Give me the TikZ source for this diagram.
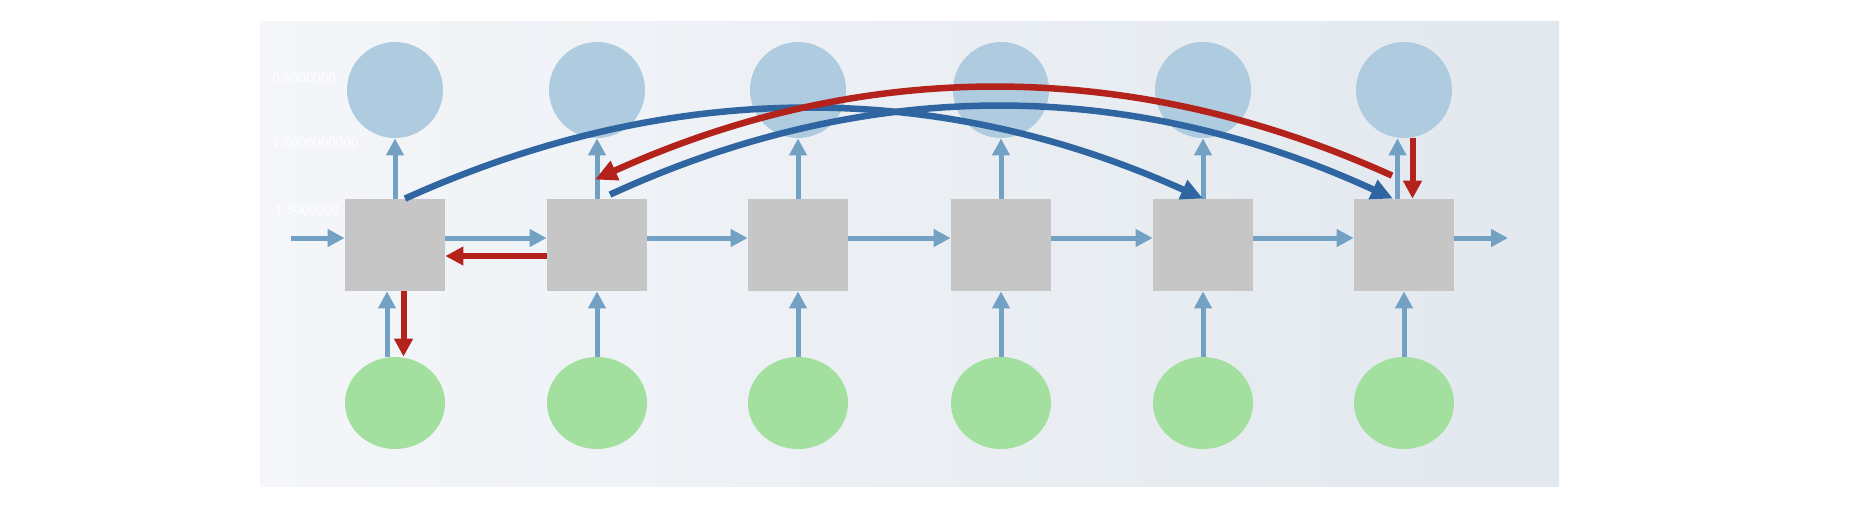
\documentclass[tikz,border=0pt]{standalone}
\usetikzlibrary{arrows.meta,shapes.geometric}
\definecolor{topblue}{HTML}{AECBDF}
\definecolor{boxgrey}{HTML}{C6C6C6}
\definecolor{ingreen}{HTML}{A3E09F}
\definecolor{flowblue}{HTML}{72A1C4}
\definecolor{skipblue}{HTML}{2F66A2}
\definecolor{bpred}{HTML}{B3231B}
\definecolor{bgleft}{HTML}{F4F6F9}
\definecolor{bgright}{HTML}{E2E8EE}
\begin{document}
\begin{tikzpicture}[x=0.5pt,y=-0.5pt,
  box/.style={fill=boxgrey, minimum width=50pt, minimum height=46pt, inner sep=0pt, draw=none},
  outc/.style={circle, fill=topblue, minimum size=48pt, inner sep=0pt},
  inc/.style={ellipse, fill=ingreen, minimum width=50pt, minimum height=46pt, inner sep=0pt},
  flow/.style={draw=flowblue, line width=2.5pt, -{Triangle[length=8.5pt,width=8.5pt]}},
  bwd/.style={draw=bpred, line width=3pt, -{Triangle[length=9pt,width=9pt]}},
  skipb/.style={draw=skipblue, line width=3.25pt, -{Triangle[length=11pt,width=10pt]}},
  skipr/.style={draw=bpred, line width=3.25pt, -{Triangle[length=11pt,width=10pt]}},
  ghost/.style={text=white, font=\sffamily\fontsize{7}{8}\selectfont, anchor=west, inner sep=0pt}]

\useasboundingbox (0,0) rectangle (1862,516);
\shade[left color=bgleft, right color=bgright] (260,21) rectangle (1559,486);

% faint axis labels of the background
\node[ghost] (l1) at (267,78) {-0.5000000};
\node[ghost] (l2) at (267,143) {-1.0000000000};
\node[ghost] (l3) at (270,210) {-1.5000000};

% nodes
\foreach \i/\x in {1/395,2/597,3/798,4/1001,5/1203,6/1404} {
  \node[outc] (t\i) at (\x,90) {};
  \node[box] (b\i) at (\x,245) {};
  \node[inc] (g\i) at (\x,403) {};
}
\coordinate (in0) at (291,238);
\coordinate (out0) at (1508,238);

% input -> hidden
\draw[flow] ([xshift=-4pt]g1.north) -- ([xshift=-4pt]b1.south);
\foreach \i in {2,...,6} { \draw[flow] (g\i) -- (b\i); }
% hidden -> output
\foreach \i in {1,...,5} { \draw[flow] (b\i) -- (t\i); }
\draw[flow] ([xshift=-3.25pt]b6.north) -- ([xshift=-3.25pt]t6.south);
% hidden -> hidden
\draw[flow] (in0) -- ([yshift=3.5pt]b1.west);
\draw[flow] ([yshift=3.5pt]b1.east) -- ([yshift=3.5pt]b2.west);
\draw[flow] ([yshift=3.5pt]b2.east) -- ([yshift=3.5pt]b3.west);
\draw[flow] ([yshift=3.5pt]b3.east) -- ([yshift=3.5pt]b4.west);
\draw[flow] ([yshift=3.5pt]b4.east) -- ([yshift=3.5pt]b5.west);
\draw[flow] ([yshift=3.5pt]b5.east) -- ([yshift=3.5pt]b6.west);
\draw[flow] ([yshift=3.5pt]b6.east) -- (out0);

% backward (red) short arrows
\draw[bwd] ([xshift=4.25pt]t6.south) -- ([xshift=4.25pt]b6.north);
\draw[bwd] ([yshift=-5.5pt]b2.west) -- ([yshift=-5.5pt]b1.east);
\draw[bwd] ([xshift=4.25pt]b1.south) -- ([xshift=4.25pt]g1.north);

% long skip curves
\draw[skipb] ([xshift=5pt]b1.north) .. controls +(266,-120) and +(-266,-120) .. (b5.north);
\draw[skipb] ([xshift=6.5pt,yshift=2pt]b2.north) .. controls +(261,-120) and +(-261,-120) .. ([xshift=-5.5pt]b6.north);
\draw[skipr] ([xshift=-6pt,yshift=11.5pt]b6.north) .. controls +(-265,-120) and +(265,-120) .. ([xshift=-1pt,yshift=9.5pt]b2.north);
\end{tikzpicture}
\end{document}
